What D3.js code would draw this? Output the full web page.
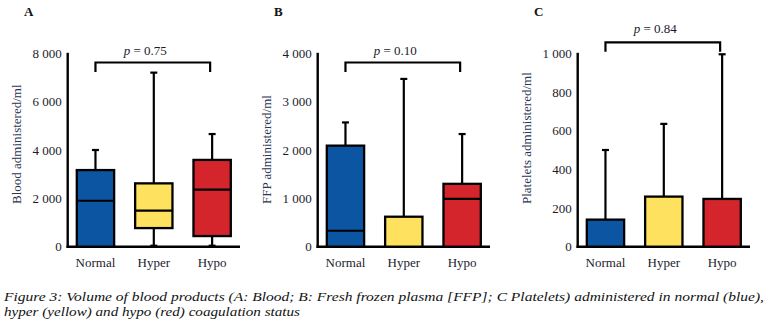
<!DOCTYPE html>
<html>
<head>
<meta charset="utf-8">
<script src="https://cdn.jsdelivr.net/npm/d3@7"></script>
<style>
  html, body { margin: 0; padding: 0; background: #fff; }
  svg { display: block; }
  text { font-family: "Liberation Serif", "Times New Roman", serif; }
</style>
</head>
<body>
<svg id="chart" width="774" height="328"></svg>
<script>
// ---- data ----
const categories = ["Normal", "Hyper", "Hypo"];
const colors = ["#0b55a3", "#fde15f", "#d4252c"];

// five-number summaries per category: [min, q1, median, q3, max]
const bloodStats = [
  [0, 0, 1900, 3170, 4000],
  [40, 770, 1490, 2620, 7200],
  [40, 440, 2360, 3590, 4660]
];
const ffpStats = [
  [0, 0, 330, 2090, 2570],
  [0, 0, 0, 620, 3470],
  [0, 0, 990, 1300, 2330]
];
const plateletStats = [
  [0, 0, 0, 140, 500],
  [0, 0, 0, 259, 635],
  [0, 0, 0, 247, 995]
];

const bloodTicks = [0, 2000, 4000, 6000, 8000];
const ffpTicks = [0, 1000, 2000, 3000, 4000];
const plateletTicks = [0, 200, 400, 600, 800, 1000];

const panelLetters = ["A", "B", "C"];
const yTitles = ["Blood administered/ml", "FFP administered/ml", "Platelets administered/ml"];
const pValues = ["0.75", "0.10", "0.84"];
const captionLines = [
  "Figure 3: Volume of blood products (A: Blood; B: Fresh frozen plasma [FFP]; C Platelets) administered in normal (blue),",
  "hyper (yellow) and hypo (red) coagulation status"
];

// ---- layout ----
const svg = d3.select("#chart");
const panels = [
  { stats: bloodStats, ticks: bloodTicks, max: 8000, ox: 0, bracketY: 62.5, pY: 55 },
  { stats: ffpStats, ticks: ffpTicks, max: 4000, ox: 250, bracketY: 62.5, pY: 55 },
  { stats: plateletStats, ticks: plateletTicks, max: 1000, ox: 510, bracketY: 42.3, pY: 33 }
];
const yBottom = 246.7, yTop = 53.3;
const fmt = v => d3.format(",")(v).replace(/,/g, " ");
const textColor = "#1b1b2b";
const titleColor = "#2d3553";

panels.forEach((p, i) => {
  const g = svg.append("g");
  const axisX = p.ox + 67.7;
  const y = d3.scaleLinear().domain([0, p.max]).range([yBottom, yTop]);
  const x = d3.scaleBand().domain(categories)
    .range([p.ox + 66.3, p.ox + 241.3]).paddingInner(0.36).paddingOuter(0.18);

  // panel letter
  g.append("text").attr("x", p.ox + 24).attr("y", 16)
    .attr("font-size", 13).attr("font-weight", "bold").attr("fill", "#111")
    .text(panelLetters[i]);

  // y axis (no tick marks, just labels)
  const yAxis = d3.axisLeft(y).tickValues(p.ticks).tickSize(0).tickPadding(6).tickFormat(fmt);
  const ya = g.append("g").attr("transform", `translate(${axisX},0)`).call(yAxis);
  ya.select(".domain").remove();
  ya.selectAll("text").attr("font-family", "Liberation Serif, serif")
    .attr("font-size", 13).attr("fill", textColor);
  g.append("line").attr("x1", axisX).attr("x2", axisX)
    .attr("y1", yTop - 0.5).attr("y2", yBottom + 1.2)
    .attr("stroke", "#000").attr("stroke-width", 2.4);

  // x axis
  const xAxis = d3.axisBottom(x).tickSize(0).tickPadding(11);
  const xa = g.append("g").attr("transform", `translate(0,${yBottom})`).call(xAxis);
  xa.select(".domain").remove();
  xa.selectAll("text").attr("font-family", "Liberation Serif, serif")
    .attr("font-size", 13).attr("fill", textColor);
  g.append("line").attr("x1", axisX - 1.2).attr("x2", p.ox + 240)
    .attr("y1", yBottom).attr("y2", yBottom)
    .attr("stroke", "#000").attr("stroke-width", 2.4);

  // y title
  g.append("text")
    .attr("transform", `translate(${p.ox + 21},204) rotate(-90)`)
    .attr("text-anchor", "start")
    .attr("font-size", 13).attr("fill", titleColor)
    .text(yTitles[i]);

  // boxes
  p.stats.forEach((s, k) => {
    const cat = categories[k];
    const bx = x(cat), bw = x.bandwidth(), cx = bx + bw / 2;
    const [mn, q1, md, q3, mx] = s;
    const capW = 7;
    // upper whisker
    g.append("line").attr("x1", cx).attr("x2", cx).attr("y1", y(q3)).attr("y2", y(mx))
      .attr("stroke", "#000").attr("stroke-width", 2.2);
    g.append("line").attr("x1", cx - capW / 2).attr("x2", cx + capW / 2).attr("y1", y(mx)).attr("y2", y(mx))
      .attr("stroke", "#000").attr("stroke-width", 2.2);
    // lower whisker
    if (q1 > mn) {
      g.append("line").attr("x1", cx).attr("x2", cx).attr("y1", y(q1)).attr("y2", y(mn))
        .attr("stroke", "#000").attr("stroke-width", 2.2);
      g.append("line").attr("x1", cx - capW / 2).attr("x2", cx + capW / 2).attr("y1", y(mn)).attr("y2", y(mn))
        .attr("stroke", "#000").attr("stroke-width", 2.2);
    }
    // box
    g.append("rect").attr("x", bx).attr("width", bw)
      .attr("y", y(q3)).attr("height", y(q1) - y(q3))
      .attr("fill", colors[k]).attr("stroke", "#000").attr("stroke-width", 2.3);
    // median
    if (md > q1) {
      g.append("line").attr("x1", bx).attr("x2", bx + bw).attr("y1", y(md)).attr("y2", y(md))
        .attr("stroke", "#000").attr("stroke-width", 2.2);
    }
  });

  // significance bracket
  const c0 = x(categories[0]) + x.bandwidth() / 2;
  const c2 = x(categories[2]) + x.bandwidth() / 2 - 2;
  const by = p.bracketY;
  g.append("path")
    .attr("d", `M${c0},${by + 9.5}V${by}H${c2}V${by + 9.5}`)
    .attr("fill", "none").attr("stroke", "#000").attr("stroke-width", 2.2);
  const pt = g.append("text").attr("x", (c0 + c2) / 2 - 7.5).attr("y", p.pY)
    .attr("text-anchor", "middle").attr("font-size", 13).attr("fill", textColor);
  pt.append("tspan").attr("font-style", "italic").text("p");
  pt.append("tspan").text(" = " + pValues[i]);
});

// caption
const capLens = [760, 296];
svg.selectAll("text.caption").data(captionLines).enter().append("text")
  .attr("class", "caption")
  .attr("x", 4).attr("y", (d, i) => 301 + i * 14.5)
  .attr("font-size", 13.5).attr("font-style", "italic").attr("fill", "#111")
  .attr("textLength", (d, i) => capLens[i])
  .attr("lengthAdjust", "spacingAndGlyphs")
  .text(d => d);
</script>
</body>
</html>
